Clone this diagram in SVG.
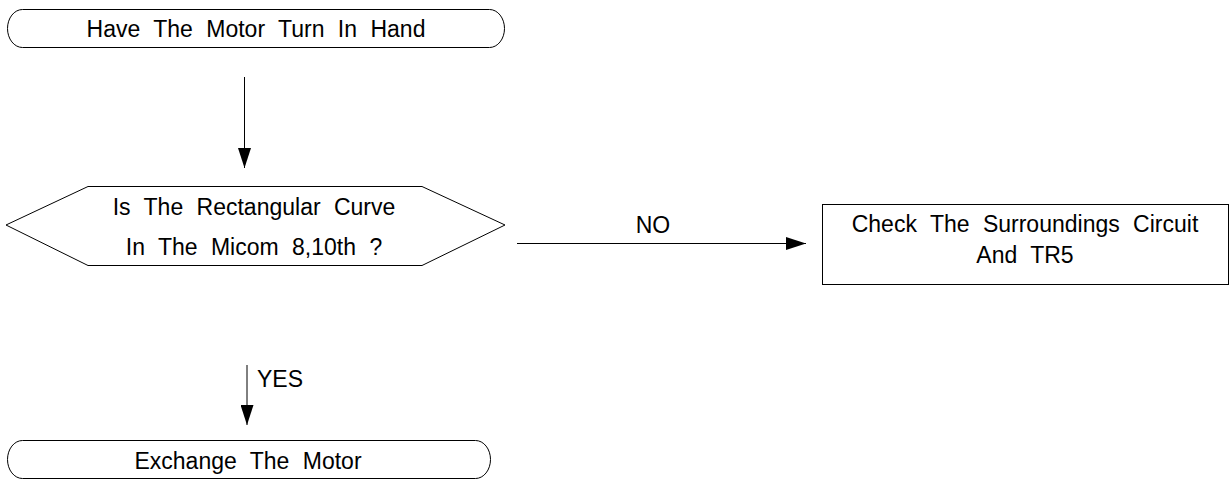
<svg xmlns="http://www.w3.org/2000/svg" width="1229" height="480" viewBox="0 0 1229 480">
<style>
.s{fill:#fff;stroke:#000;stroke-width:1}
.t{font-family:"Liberation Sans",Arial,sans-serif;font-size:23px;fill:#000;text-anchor:middle;word-spacing:7px}
.c{stroke:#000;stroke-width:1;fill:none}
</style>
<defs>
<marker id="ah" markerUnits="userSpaceOnUse" markerWidth="20" markerHeight="13" refX="20" refY="6.5" orient="auto">
<path d="M0,0 L20,6.5 L0,13 Z" fill="#000"/>
</marker>
</defs>
<rect width="1229" height="480" fill="#fff"/>
<g id="connectors">
<path class="c" d="M244.5,77 V168" marker-end="url(#ah)"/>
<path class="c" d="M517,243.5 H806" marker-end="url(#ah)"/>
<path class="c" d="M247,365 V425" marker-end="url(#ah)"/>
<text class="t" x="653" y="233">NO</text>
<text class="t" x="257" y="387" style="text-anchor:start">YES</text>
</g>
<g id="start">
<rect class="s" x="7.5" y="9.5" width="497" height="38" rx="15" ry="19"/>
<text class="t" x="256" y="37">Have The Motor Turn In Hand</text>
</g>
<g id="decision">
<polygon class="s" points="6,225 88,186.5 422,186.5 505,225 422,265.5 88,265.5"/>
<text class="t" x="254" y="215">Is The Rectangular Curve</text>
<text class="t" x="254" y="255">In The Micom 8,10th ?</text>
</g>
<g id="check">
<rect class="s" x="822.5" y="204.5" width="406" height="80"/>
<text class="t" x="1025" y="232">Check The Surroundings Circuit</text>
<text class="t" x="1025" y="263">And TR5</text>
</g>
<g id="end">
<rect class="s" x="7.5" y="440.5" width="483" height="38" rx="15" ry="19"/>
<text class="t" x="248" y="469">Exchange The Motor</text>
</g>
</svg>
